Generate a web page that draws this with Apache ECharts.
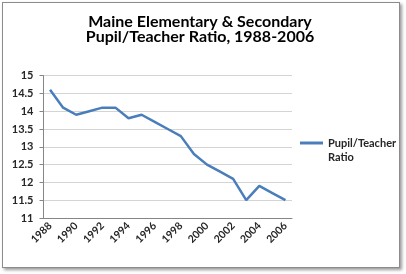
<!DOCTYPE html>
<html>
<head>
<meta charset="utf-8">
<script src="https://cdn.jsdelivr.net/npm/echarts@6/dist/echarts.min.js"></script>
<style>
  body { margin: 0; background: #fff; }
  #frame { position: absolute; left: 2px; top: 2px; width: 396px; height: 264px; border: 1px solid #8c8c8c; box-shadow: 2px 2px 3px #9a9a9a; background: #fff; }
  #chart { position: absolute; left: 0; top: 0; width: 406px; height: 274px; }
</style>
</head>
<body>
<div id="frame"></div>
<div id="chart"></div>
<script>
// data
var years = ['1988', '1989', '1990', '1991', '1992', '1993', '1994', '1995', '1996', '1997',
  '1998', '1999', '2000', '2001', '2002', '2003', '2004', '2005', '2006'];
var ratio = [14.6, 14.1, 13.9, 14.0, 14.1, 14.1, 13.8, 13.9, 13.7, 13.5,
  13.3, 12.8, 12.5, 12.3, 12.1, 11.5, 11.9, 11.7, 11.5];
var seriesName = 'Pupil/Teacher Ratio';
var titleLines = ['Maine Elementary & Secondary', 'Pupil/Teacher Ratio, 1988-2006'];

var fontName = 'Lato';
var myChart = echarts.init(document.getElementById('chart'));

var option = {
  animation: false,
  title: {
    text: titleLines.join('\n'),
    left: 200,
    textAlign: 'center',
    top: 14,
    padding: 0,
    textStyle: { fontFamily: fontName, fontSize: 16, fontWeight: 'bold', color: '#000', lineHeight: 15 }
  },
  legend: {
    left: 300,
    top: 122,
    padding: 0,
    icon: 'rect',
    itemWidth: 23,
    itemHeight: 3,
    itemGap: 3,
    data: [seriesName],
    // blank first line so the line icon sits beside "Pupil/Teacher"
    formatter: function(name) {
      return ' \nPupil/Teacher\nRatio'
    },
    textStyle: { fontFamily: fontName, fontSize: 11, fontWeight: 'bold', color: '#262626', lineHeight: 14 }
  },
  grid: { left: 43.5, right: 114, top: 75.6, bottom: 56 },
  xAxis: {
    type: 'category',
    data: years,
    boundaryGap: true,
    axisLine: { lineStyle: { color: '#868686' } },
    axisTick: { interval: 0, length: 4, lineStyle: { color: '#868686' } },
    axisLabel: { interval: 1, rotate: 45, margin: 6, fontFamily: fontName, fontSize: 10.5, fontWeight: 'bold', color: '#262626' }
  },
  yAxis: {
    type: 'value',
    min: 11,
    max: 15,
    interval: 0.5,
    axisLine: { show: true, lineStyle: { color: '#868686' } },
    axisTick: { show: true, length: 4, lineStyle: { color: '#868686' } },
    splitLine: { lineStyle: { color: '#d4d4d4' } },
    axisLabel: { margin: 10, fontFamily: fontName, fontSize: 11, fontWeight: 'bold', color: '#262626' }
  },
  series: [{
    name: seriesName,
    type: 'line',
    data: ratio,
    symbol: 'none',
    itemStyle: { color: '#4a7ebb' },
    lineStyle: { color: '#4a7ebb', width: 2.5 }
  }]
};
myChart.setOption(option);
</script>
</body>
</html>
